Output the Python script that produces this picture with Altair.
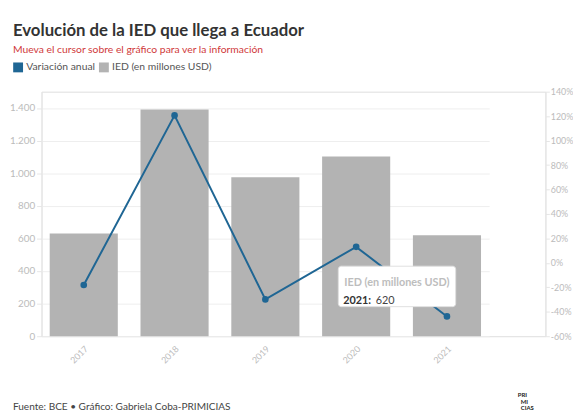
import altair as alt
import pandas as pd

FONT = "Lato"
BLUE = "#1f6694"
GREY = "#b3b3b3"

years = ["2017", "2018", "2019", "2020", "2021"]
ied = [630, 1390, 975, 1103, 620]
variacion = [-18.1, 120.6, -29.9, 13.1, -43.8]

series_names = ["Variación anual", "IED (en millones USD)"]
left_ticks = [0, 200, 400, 600, 800, 1000, 1200, 1400]
right_ticks = [-60, -40, -20, 0, 20, 40, 60, 80, 100, 120, 140]

title_text = "Evolución de la IED que llega a Ecuador"
subtitle_text = "Mueva el cursor sobre el gráfico para ver la información"
footer_text = "Fuente: BCE • Gráfico: Gabriela Coba-PRIMICIAS"

df = pd.DataFrame({"year": years, "ied": ied, "var": variacion})

color_scale = alt.Scale(domain=series_names, range=[BLUE, GREY])
legend = alt.Legend(
    title=None, orient="none", legendX=-29, legendY=-30, direction="horizontal",
    symbolType="square", symbolSize=100, labelFontSize=10.5, labelColor="#555",
    labelFont=FONT, columnPadding=3, labelOffset=3, symbolStrokeWidth=0,
)

x_enc = alt.X(
    "year:N",
    scale=alt.Scale(range=[0, 454], paddingInner=0.25, paddingOuter=0.09),
    axis=alt.Axis(title=None, labelAngle=315, labelColor="#bbb", labelFontSize=9,
                  labelFont=FONT, domain=False, ticks=False, labelPadding=8),
)

base = alt.Chart(df)

bars = base.transform_calculate(series="'IED (en millones USD)'").mark_bar().encode(
    x=x_enc,
    y=alt.Y("ied:Q", scale=alt.Scale(domain=[0, 1500], nice=False),
            axis=alt.Axis(title=None, values=left_ticks, labelColor="#bbb", labelFontSize=10,
                          labelFont=FONT, domainColor="#e6e6e6", tickColor="#e6e6e6",
                          tickSize=5, gridColor="#eeeeee",
                          labelExpr="replace(format(datum.value, ','), ',', '.')")),
    color=alt.Color("series:N", scale=color_scale, legend=legend),
)

line = base.transform_calculate(series="'Variación anual'").mark_line(
    strokeWidth=2, point=alt.OverlayMarkDef(size=45, filled=True)
).encode(
    x=x_enc,
    y=alt.Y("var:Q", scale=alt.Scale(domain=[-60, 140], nice=False),
            axis=alt.Axis(title=None, orient="right", values=right_ticks, labelColor="#bbb",
                          labelFontSize=9, labelFont=FONT, domainColor="#e6e6e6",
                          tickColor="#e6e6e6", tickSize=4, grid=False, labelPadding=1,
                          labelExpr="datum.value + '%'")),
    color=alt.Color("series:N", scale=color_scale, legend=legend),
)

data_layers = alt.layer(bars, line).resolve_scale(y="independent")

# tooltip-like annotation for 2021
tip = base.transform_filter("datum.year == '2021'")
tip_box = tip.mark_rect(fill="white", stroke="#e0e0e0", cornerRadius=3, strokeWidth=1).encode(
    x=alt.value(301), x2=alt.value(420), y=alt.value(177), y2=alt.value(218))
tip_title = tip.mark_text(align="left", fontSize=11, font=FONT, fontWeight="bold", color="#bdbdbd").encode(
    x=alt.value(307), y=alt.value(194), text=alt.value("IED (en millones USD)"))
tip_year = tip.transform_calculate(lbl="datum.year + ':'").mark_text(
    align="left", fontSize=11, font=FONT, fontWeight="bold", color="#333").encode(
    x=alt.value(306), y=alt.value(212), text="lbl:N")
tip_val = tip.mark_text(align="left", fontSize=11, font=FONT, color="#444").encode(
    x=alt.value(339), y=alt.value(212), text="ied:Q")

# titles and footer
title = alt.Chart(pd.DataFrame({"t": [title_text]})).mark_text(
    align="left", fontSize=17, font=FONT, fontWeight="bold", color="#333").encode(
    x=alt.value(-29), y=alt.value(-61), text="t:N")
subtitle = alt.Chart(pd.DataFrame({"t": [subtitle_text]})).mark_text(
    align="left", fontSize=10.5, font=FONT, color="#d0393a").encode(
    x=alt.value(-29), y=alt.value(-42), text="t:N")
footer = alt.Chart(pd.DataFrame({"t": [footer_text]})).mark_text(
    align="left", fontSize=10.2, font=FONT, color="#444").encode(
    x=alt.value(-29), y=alt.value(320), text="t:N")
logo1 = alt.Chart(pd.DataFrame({"t": ["PRI"]})).mark_text(
    align="left", fontSize=6, font=FONT, fontWeight="bold", color="#222").encode(
    x=alt.value(483), y=alt.value(308), text="t:N")
logo2 = alt.Chart(pd.DataFrame({"t": ["MI"]})).mark_text(
    align="left", fontSize=6, font=FONT, fontWeight="bold", color="#222").encode(
    x=alt.value(486), y=alt.value(314.5), text="t:N")
logo3 = alt.Chart(pd.DataFrame({"t": ["CIAS"]})).mark_text(
    align="left", fontSize=6, font=FONT, fontWeight="bold", color="#222").encode(
    x=alt.value(486), y=alt.value(321), text="t:N")

chart = alt.layer(
    data_layers, tip_box, tip_title, tip_year, tip_val, title, subtitle, footer, logo1, logo2, logo3
).properties(
    width=511, height=248,
    autosize=alt.AutoSizeParams(type="none"),
    padding={"left": 34, "top": 82, "right": 28, "bottom": 76},
).configure_view(stroke=None).configure(font=FONT)

chart.save("out.html", embed_options={"renderer": "svg", "actions": False})
